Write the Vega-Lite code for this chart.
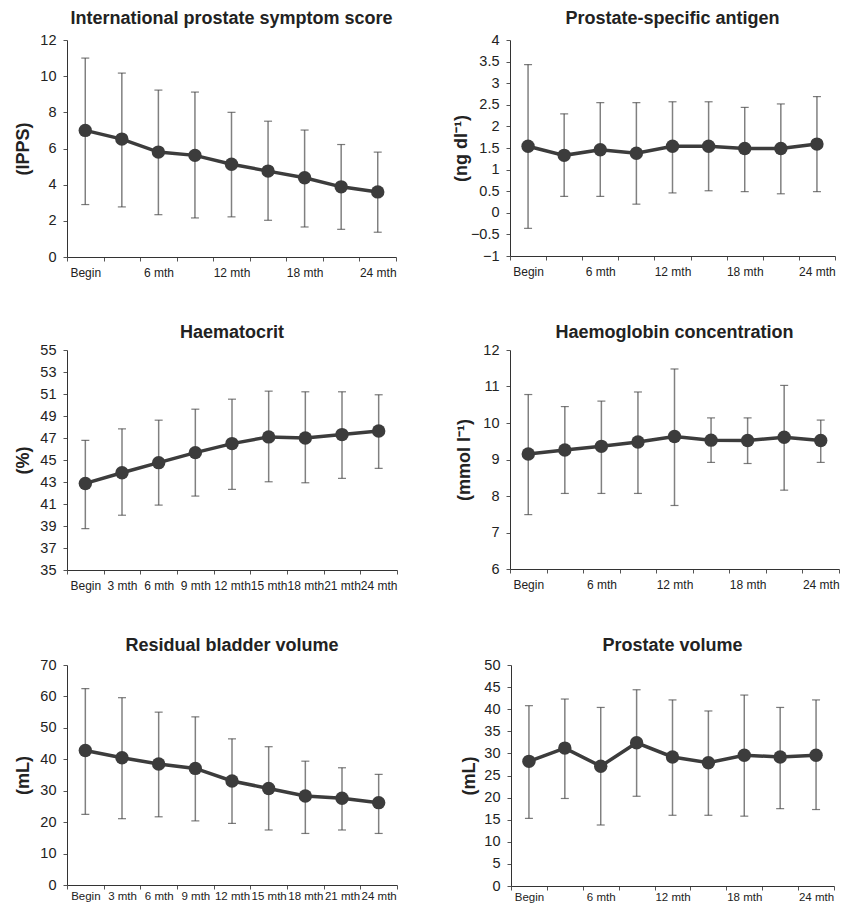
{
  "$schema": "https://vega.github.io/schema/vega-lite/v6.json",
  "background": "white",
  "padding": {"left": 14, "top": 10, "right": 2, "bottom": 0},
  "config": {
    "view": {"stroke": null},
    "font": "Liberation Sans",
    "axis": {"grid": false, "domainColor": "#333", "tickColor": "#555", "labelColor": "#222", "titleColor": "#222", "tickSize": 4},
    "axisY": {"labelOverlap": false, "labelBound": false, "labelFlush": false, "format": "~r", "labelFontSize": 14.5, "labelPadding": 7, "titleFontSize": 18, "titleFontWeight": "bold", "titlePadding": 3},
    "axisX": {"tickBand": "extent", "labelAngle": 0, "labelFontSize": 12, "labelPadding": 6, "labelOverlap": false, "labelBound": false, "labelFlush": false},
    "title": {"fontSize": 18, "fontWeight": "bold", "color": "#222", "anchor": "middle", "offset": 4}
  },
  "datasets": {
    "ipss": [
      {"t": "Begin", "m": 7.0, "lo": 2.9, "hi": 11.0},
      {"t": "3 mth", "m": 6.52, "lo": 2.77, "hi": 10.17},
      {"t": "6 mth", "m": 5.8, "lo": 2.34, "hi": 9.23},
      {"t": "9 mth", "m": 5.62, "lo": 2.16, "hi": 9.12},
      {"t": "12 mth", "m": 5.13, "lo": 2.22, "hi": 8.0},
      {"t": "15 mth", "m": 4.75, "lo": 2.03, "hi": 7.51},
      {"t": "18 mth", "m": 4.38, "lo": 1.66, "hi": 7.02},
      {"t": "21 mth", "m": 3.88, "lo": 1.53, "hi": 6.22},
      {"t": "24 mth", "m": 3.6, "lo": 1.37, "hi": 5.8}
    ],
    "psa": [
      {"t": "Begin", "m": 1.54, "lo": -0.36, "hi": 3.43},
      {"t": "3 mth", "m": 1.33, "lo": 0.38, "hi": 2.29},
      {"t": "6 mth", "m": 1.46, "lo": 0.38, "hi": 2.55},
      {"t": "9 mth", "m": 1.38, "lo": 0.2, "hi": 2.55},
      {"t": "12 mth", "m": 1.54, "lo": 0.46, "hi": 2.57},
      {"t": "15 mth", "m": 1.54, "lo": 0.51, "hi": 2.57},
      {"t": "18 mth", "m": 1.49, "lo": 0.49, "hi": 2.44},
      {"t": "21 mth", "m": 1.49, "lo": 0.44, "hi": 2.52},
      {"t": "24 mth", "m": 1.59, "lo": 0.49, "hi": 2.69}
    ],
    "hct": [
      {"t": "Begin", "m": 42.87, "lo": 38.77, "hi": 46.79},
      {"t": "3 mth", "m": 43.84, "lo": 39.98, "hi": 47.83},
      {"t": "6 mth", "m": 44.76, "lo": 40.9, "hi": 48.62},
      {"t": "9 mth", "m": 45.67, "lo": 41.72, "hi": 49.62},
      {"t": "12 mth", "m": 46.49, "lo": 42.33, "hi": 50.53},
      {"t": "15 mth", "m": 47.1, "lo": 43.02, "hi": 51.26},
      {"t": "18 mth", "m": 47.0, "lo": 42.93, "hi": 51.2},
      {"t": "21 mth", "m": 47.31, "lo": 43.33, "hi": 51.2},
      {"t": "24 mth", "m": 47.64, "lo": 44.24, "hi": 50.93}
    ],
    "hb": [
      {"t": "Begin", "m": 9.15, "lo": 7.49, "hi": 10.78},
      {"t": "3 mth", "m": 9.26, "lo": 8.07, "hi": 10.45},
      {"t": "6 mth", "m": 9.36, "lo": 8.07, "hi": 10.6},
      {"t": "9 mth", "m": 9.48, "lo": 8.07, "hi": 10.85},
      {"t": "12 mth", "m": 9.63, "lo": 7.74, "hi": 11.48},
      {"t": "15 mth", "m": 9.53, "lo": 8.92, "hi": 10.14},
      {"t": "18 mth", "m": 9.52, "lo": 8.89, "hi": 10.14},
      {"t": "21 mth", "m": 9.61, "lo": 8.16, "hi": 11.03},
      {"t": "24 mth", "m": 9.52, "lo": 8.92, "hi": 10.08}
    ],
    "rbv": [
      {"t": "Begin", "m": 42.8, "lo": 22.5, "hi": 62.5},
      {"t": "3 mth", "m": 40.5, "lo": 21.1, "hi": 59.6},
      {"t": "6 mth", "m": 38.5, "lo": 21.7, "hi": 55.0},
      {"t": "9 mth", "m": 37.1, "lo": 20.4, "hi": 53.5},
      {"t": "12 mth", "m": 33.1, "lo": 19.6, "hi": 46.5},
      {"t": "15 mth", "m": 30.7, "lo": 17.5, "hi": 44.0},
      {"t": "18 mth", "m": 28.3, "lo": 16.4, "hi": 39.4},
      {"t": "21 mth", "m": 27.6, "lo": 17.5, "hi": 37.3},
      {"t": "24 mth", "m": 26.2, "lo": 16.4, "hi": 35.2}
    ],
    "pv": [
      {"t": "Begin", "m": 28.2, "lo": 15.3, "hi": 40.8},
      {"t": "3 mth", "m": 31.2, "lo": 19.8, "hi": 42.3},
      {"t": "6 mth", "m": 27.1, "lo": 13.8, "hi": 40.4},
      {"t": "9 mth", "m": 32.4, "lo": 20.3, "hi": 44.4},
      {"t": "12 mth", "m": 29.2, "lo": 16.0, "hi": 42.1},
      {"t": "15 mth", "m": 27.9, "lo": 16.0, "hi": 39.6},
      {"t": "18 mth", "m": 29.6, "lo": 15.8, "hi": 43.2},
      {"t": "21 mth", "m": 29.2, "lo": 17.5, "hi": 40.4},
      {"t": "24 mth", "m": 29.6, "lo": 17.3, "hi": 42.1}
    ]
  },
  "vconcat": [
    {
      "hconcat": [
        {
          "title": "International prostate symptom score",
          "width": 329, "height": 217,
          "data": {"name": "ipss"},
          "encoding": {
            "x": {"field": "t", "type": "ordinal", "title": null,
              "scale": {"type": "band", "domain": ["Begin","3 mth","6 mth","9 mth","12 mth","15 mth","18 mth","21 mth","24 mth"], "paddingInner": 0, "paddingOuter": 0},
              "axis": {"labelExpr": "indexof(['3 mth','9 mth','15 mth','21 mth'], datum.value) >= 0 ? '' : datum.label"}}
          },
          "layer": [
            {"mark": {"type": "rule", "color": "#808080", "strokeWidth": 1.5},
             "encoding": {"y": {"field": "lo", "type": "quantitative", "title": "(IPPS)", "scale": {"domain": [0, 12], "nice": false, "zero": false},
               "axis": {"values": [0,2,4,6,8,10,12], "minExtent": 32, "maxExtent": 32}},
               "y2": {"field": "hi"}}},
            {"mark": {"type": "tick", "color": "#444", "size": 8, "thickness": 1.2}, "encoding": {"y": {"field": "lo", "type": "quantitative", "axis": {"values": [0,2,4,6,8,10,12], "minExtent": 32, "maxExtent": 32}}}},
            {"mark": {"type": "tick", "color": "#444", "size": 8, "thickness": 1.2}, "encoding": {"y": {"field": "hi", "type": "quantitative", "axis": {"values": [0,2,4,6,8,10,12], "minExtent": 32, "maxExtent": 32}}}},
            {"mark": {"type": "line", "color": "#3c3c3c", "strokeWidth": 3.5}, "encoding": {"y": {"field": "m", "type": "quantitative", "axis": {"values": [0,2,4,6,8,10,12], "minExtent": 32, "maxExtent": 32}}}},
            {"mark": {"type": "point", "filled": true, "opacity": 1, "color": "#3c3c3c", "size": 180}, "encoding": {"y": {"field": "m", "type": "quantitative", "axis": {"values": [0,2,4,6,8,10,12], "minExtent": 32, "maxExtent": 32}}}}
          ]
        },
        {
          "title": "Prostate-specific antigen",
          "width": 325, "height": 216,
          "data": {"name": "psa"},
          "encoding": {
            "x": {"field": "t", "type": "ordinal", "title": null,
              "scale": {"type": "band", "domain": ["Begin","3 mth","6 mth","9 mth","12 mth","15 mth","18 mth","21 mth","24 mth"], "paddingInner": 0, "paddingOuter": 0},
              "axis": {"labelExpr": "indexof(['3 mth','9 mth','15 mth','21 mth'], datum.value) >= 0 ? '' : datum.label"}}
          },
          "layer": [
            {"mark": {"type": "rule", "color": "#808080", "strokeWidth": 1.5},
             "encoding": {"y": {"field": "lo", "type": "quantitative", "title": "(ng dl⁻¹)", "scale": {"domain": [-1, 4], "nice": false, "zero": false},
               "axis": {"values": [-1,-0.5,0,0.5,1,1.5,2,2.5,3,3.5,4], "minExtent": 37, "maxExtent": 37}},
               "y2": {"field": "hi"}}},
            {"mark": {"type": "tick", "color": "#444", "size": 8, "thickness": 1.2}, "encoding": {"y": {"field": "lo", "type": "quantitative", "axis": {"values": [-1,-0.5,0,0.5,1,1.5,2,2.5,3,3.5,4], "minExtent": 37, "maxExtent": 37}}}},
            {"mark": {"type": "tick", "color": "#444", "size": 8, "thickness": 1.2}, "encoding": {"y": {"field": "hi", "type": "quantitative", "axis": {"values": [-1,-0.5,0,0.5,1,1.5,2,2.5,3,3.5,4], "minExtent": 37, "maxExtent": 37}}}},
            {"mark": {"type": "line", "color": "#3c3c3c", "strokeWidth": 3.5}, "encoding": {"y": {"field": "m", "type": "quantitative", "axis": {"values": [-1,-0.5,0,0.5,1,1.5,2,2.5,3,3.5,4], "minExtent": 37, "maxExtent": 37}}}},
            {"mark": {"type": "point", "filled": true, "opacity": 1, "color": "#3c3c3c", "size": 180}, "encoding": {"y": {"field": "m", "type": "quantitative", "axis": {"values": [-1,-0.5,0,0.5,1,1.5,2,2.5,3,3.5,4], "minExtent": 37, "maxExtent": 37}}}}
          ]
        }
      ],
      "spacing": 55
    },
    {
      "hconcat": [
        {
          "title": {"text": "Haematocrit", "offset": 0},
          "width": 330, "height": 220,
          "data": {"name": "hct"},
          "encoding": {
            "x": {"field": "t", "type": "ordinal", "title": null,
              "scale": {"type": "band", "domain": ["Begin","3 mth","6 mth","9 mth","12 mth","15 mth","18 mth","21 mth","24 mth"], "paddingInner": 0, "paddingOuter": 0}}
          },
          "layer": [
            {"mark": {"type": "rule", "color": "#808080", "strokeWidth": 1.5},
             "encoding": {"y": {"field": "lo", "type": "quantitative", "title": "(%)", "scale": {"domain": [35, 55], "nice": false, "zero": false},
               "axis": {"values": [35,37,39,41,43,45,47,49,51,53,55], "minExtent": 32, "maxExtent": 32}},
               "y2": {"field": "hi"}}},
            {"mark": {"type": "tick", "color": "#444", "size": 8, "thickness": 1.2}, "encoding": {"y": {"field": "lo", "type": "quantitative", "axis": {"values": [35,37,39,41,43,45,47,49,51,53,55], "minExtent": 32, "maxExtent": 32}}}},
            {"mark": {"type": "tick", "color": "#444", "size": 8, "thickness": 1.2}, "encoding": {"y": {"field": "hi", "type": "quantitative", "axis": {"values": [35,37,39,41,43,45,47,49,51,53,55], "minExtent": 32, "maxExtent": 32}}}},
            {"mark": {"type": "line", "color": "#3c3c3c", "strokeWidth": 3.5}, "encoding": {"y": {"field": "m", "type": "quantitative", "axis": {"values": [35,37,39,41,43,45,47,49,51,53,55], "minExtent": 32, "maxExtent": 32}}}},
            {"mark": {"type": "point", "filled": true, "opacity": 1, "color": "#3c3c3c", "size": 180}, "encoding": {"y": {"field": "m", "type": "quantitative", "axis": {"values": [35,37,39,41,43,45,47,49,51,53,55], "minExtent": 32, "maxExtent": 32}}}}
          ]
        },
        {
          "title": {"text": "Haemoglobin concentration", "offset": 0},
          "width": 329, "height": 219,
          "data": {"name": "hb"},
          "encoding": {
            "x": {"field": "t", "type": "ordinal", "title": null,
              "scale": {"type": "band", "domain": ["Begin","3 mth","6 mth","9 mth","12 mth","15 mth","18 mth","21 mth","24 mth"], "paddingInner": 0, "paddingOuter": 0},
              "axis": {"labelExpr": "indexof(['3 mth','9 mth','15 mth','21 mth'], datum.value) >= 0 ? '' : datum.label"}}
          },
          "layer": [
            {"mark": {"type": "rule", "color": "#808080", "strokeWidth": 1.5},
             "encoding": {"y": {"field": "lo", "type": "quantitative", "title": "(mmol l⁻¹)", "scale": {"domain": [6, 12], "nice": false, "zero": false},
               "axis": {"values": [6,7,8,9,10,11,12], "minExtent": 34, "maxExtent": 34}},
               "y2": {"field": "hi"}}},
            {"mark": {"type": "tick", "color": "#444", "size": 8, "thickness": 1.2}, "encoding": {"y": {"field": "lo", "type": "quantitative", "axis": {"values": [6,7,8,9,10,11,12], "minExtent": 34, "maxExtent": 34}}}},
            {"mark": {"type": "tick", "color": "#444", "size": 8, "thickness": 1.2}, "encoding": {"y": {"field": "hi", "type": "quantitative", "axis": {"values": [6,7,8,9,10,11,12], "minExtent": 34, "maxExtent": 34}}}},
            {"mark": {"type": "line", "color": "#3c3c3c", "strokeWidth": 3.5}, "encoding": {"y": {"field": "m", "type": "quantitative", "axis": {"values": [6,7,8,9,10,11,12], "minExtent": 34, "maxExtent": 34}}}},
            {"mark": {"type": "point", "filled": true, "opacity": 1, "color": "#3c3c3c", "size": 180}, "encoding": {"y": {"field": "m", "type": "quantitative", "axis": {"values": [6,7,8,9,10,11,12], "minExtent": 34, "maxExtent": 34}}}}
          ]
        }
      ],
      "spacing": 57
    },
    {
      "hconcat": [
        {
          "title": {"text": "Residual bladder volume", "offset": 2},
          "width": 330, "height": 220,
          "data": {"name": "rbv"},
          "encoding": {
            "x": {"field": "t", "type": "ordinal", "title": null,
              "scale": {"type": "band", "domain": ["Begin","3 mth","6 mth","9 mth","12 mth","15 mth","18 mth","21 mth","24 mth"], "paddingInner": 0, "paddingOuter": 0},
              "axis": {"labelPadding": 1, "labelFontSize": 11.5}}
          },
          "layer": [
            {"mark": {"type": "rule", "color": "#808080", "strokeWidth": 1.5},
             "encoding": {"y": {"field": "lo", "type": "quantitative", "title": "(mL)", "scale": {"domain": [0, 70], "nice": false, "zero": false},
               "axis": {"values": [0,10,20,30,40,50,60,70], "minExtent": 32, "maxExtent": 32}},
               "y2": {"field": "hi"}}},
            {"mark": {"type": "tick", "color": "#444", "size": 8, "thickness": 1.2}, "encoding": {"y": {"field": "lo", "type": "quantitative", "axis": {"values": [0,10,20,30,40,50,60,70], "minExtent": 32, "maxExtent": 32}}}},
            {"mark": {"type": "tick", "color": "#444", "size": 8, "thickness": 1.2}, "encoding": {"y": {"field": "hi", "type": "quantitative", "axis": {"values": [0,10,20,30,40,50,60,70], "minExtent": 32, "maxExtent": 32}}}},
            {"mark": {"type": "line", "color": "#3c3c3c", "strokeWidth": 3.5}, "encoding": {"y": {"field": "m", "type": "quantitative", "axis": {"values": [0,10,20,30,40,50,60,70], "minExtent": 32, "maxExtent": 32}}}},
            {"mark": {"type": "point", "filled": true, "opacity": 1, "color": "#3c3c3c", "size": 180}, "encoding": {"y": {"field": "m", "type": "quantitative", "axis": {"values": [0,10,20,30,40,50,60,70], "minExtent": 32, "maxExtent": 32}}}}
          ]
        },
        {
          "title": {"text": "Prostate volume", "offset": 2},
          "width": 323, "height": 221,
          "data": {"name": "pv"},
          "encoding": {
            "x": {"field": "t", "type": "ordinal", "title": null,
              "scale": {"type": "band", "domain": ["Begin","3 mth","6 mth","9 mth","12 mth","15 mth","18 mth","21 mth","24 mth"], "paddingInner": 0, "paddingOuter": 0},
              "axis": {"labelPadding": 1, "labelFontSize": 11.5, "labelExpr": "indexof(['3 mth','9 mth','15 mth','21 mth'], datum.value) >= 0 ? '' : datum.label"}}
          },
          "layer": [
            {"mark": {"type": "rule", "color": "#808080", "strokeWidth": 1.5},
             "encoding": {"y": {"field": "lo", "type": "quantitative", "title": "(mL)", "scale": {"domain": [0, 50], "nice": false, "zero": false},
               "axis": {"values": [0,5,10,15,20,25,30,35,40,45,50], "minExtent": 30, "maxExtent": 30}},
               "y2": {"field": "hi"}}},
            {"mark": {"type": "tick", "color": "#444", "size": 8, "thickness": 1.2}, "encoding": {"y": {"field": "lo", "type": "quantitative", "axis": {"values": [0,5,10,15,20,25,30,35,40,45,50], "minExtent": 30, "maxExtent": 30}}}},
            {"mark": {"type": "tick", "color": "#444", "size": 8, "thickness": 1.2}, "encoding": {"y": {"field": "hi", "type": "quantitative", "axis": {"values": [0,5,10,15,20,25,30,35,40,45,50], "minExtent": 30, "maxExtent": 30}}}},
            {"mark": {"type": "line", "color": "#3c3c3c", "strokeWidth": 3.5}, "encoding": {"y": {"field": "m", "type": "quantitative", "axis": {"values": [0,5,10,15,20,25,30,35,40,45,50], "minExtent": 30, "maxExtent": 30}}}},
            {"mark": {"type": "point", "filled": true, "opacity": 1, "color": "#3c3c3c", "size": 180}, "encoding": {"y": {"field": "m", "type": "quantitative", "axis": {"values": [0,5,10,15,20,25,30,35,40,45,50], "minExtent": 30, "maxExtent": 30}}}}
          ]
        }
      ],
      "spacing": 62
    }
  ],
  "spacing": 46
}
